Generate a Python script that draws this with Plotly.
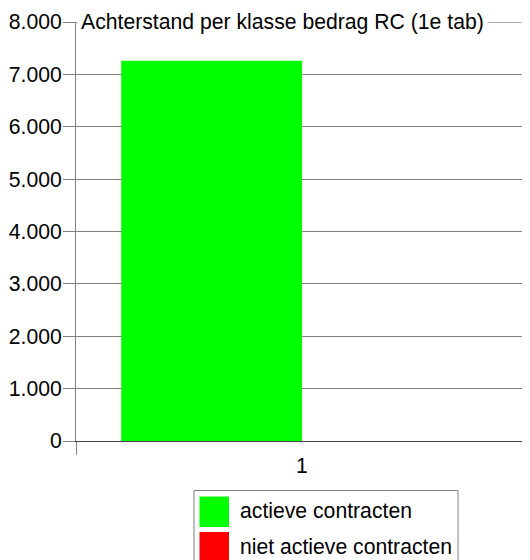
import plotly.graph_objects as go

# chart data
categories = ["1"]
series_names = ["actieve contracten", "niet actieve contracten"]
actieve = [7260]
niet_actieve = [0]
series_colors = ["#00ff00", "#ff0000"]
y_ticks = [0, 1000, 2000, 3000, 4000, 5000, 6000, 7000, 8000]
title_text = "Achterstand per klasse bedrag RC (1e tab)"

# the page body adds an 8px margin, so size the figure to the remaining window
OFF = 8
W, H = 530 - OFF, 560 - OFF
L, R, T, B = 76 - OFF, 2, 22 - OFF, 119
pw, ph = W - L - R, H - T - B
FS = 21.2


def px_x(v):
    # page pixel -> paper coordinate
    return (v - OFF - L) / pw


def px_y(v):
    return (H - B - (v - OFF)) / ph


fig = go.Figure()
for name, vals, col in zip(series_names, [actieve, niet_actieve], series_colors):
    fig.add_trace(go.Bar(x=categories, y=vals, name=name, marker_color=col,
                         marker_line_width=0, showlegend=False))

fig.update_layout(
    width=W, height=H,
    margin=dict(l=L, r=R, t=T, b=B),
    paper_bgcolor="white", plot_bgcolor="white",
    font=dict(family="Liberation Sans, Arial, sans-serif", size=FS, color="black"),
    barmode="group", bargap=0.2, bargroupgap=0,
    separators=",.",
)
fig.update_yaxes(
    range=[0, 8000], tickvals=y_ticks, tickformat=",d", automargin=False,
    showgrid=True, gridcolor="#808080", gridwidth=1,
    zeroline=False, showline=True, linecolor="#808080", linewidth=1,
    ticks="outside", ticklen=12, tickcolor="#808080", ticklabelstandoff=-3,
)
fig.update_xaxes(
    showgrid=False, zeroline=False, showline=True, linecolor="#404040", linewidth=1,
    ticks="outside", tickson="boundaries", ticklen=13, tickcolor="#808080",
    automargin=False, ticklabelstandoff=6,
)

# top gridline (plotly skips it at the range edge)
fig.add_shape(type="line", xref="paper", yref="y", x0=0, x1=1, y0=8000, y1=8000,
              line=dict(color="#606060", width=1))

# title sitting on the top gridline
fig.add_annotation(
    text=title_text, xref="paper", yref="y", x=0, y=8000, xshift=1,
    xanchor="left", yanchor="middle", showarrow=False,
    bgcolor="white", borderpad=3, font=dict(size=FS),
)

# legend box drawn by hand
fig.add_shape(type="rect", xref="paper", yref="paper",
              x0=px_x(194), x1=px_x(458), y0=px_y(575), y1=px_y(490.5),
              line=dict(color="#808080", width=1), fillcolor="white")
for i, (name, col) in enumerate(zip(series_names, series_colors)):
    top = 496.5 + i * 35.5
    fig.add_shape(type="rect", xref="paper", yref="paper",
                  x0=px_x(199.5), x1=px_x(229), y0=px_y(top + 30.5), y1=px_y(top),
                  line=dict(width=0), fillcolor=col)
    fig.add_annotation(text=name, xref="paper", yref="paper",
                       x=px_x(238), y=px_y(top + 14), xanchor="left", yanchor="middle",
                       showarrow=False, font=dict(size=FS))

fig.write_html("out.html")
